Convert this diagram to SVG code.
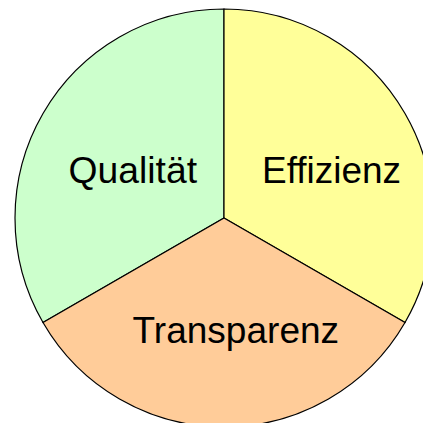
<svg xmlns="http://www.w3.org/2000/svg" width="423" height="423" viewBox="0 0 423 423">
<style>
.seg{stroke:#000;stroke-width:1.2}
.lbl{font-family:"Liberation Sans",Arial,sans-serif;font-size:36px;fill:#000}
</style>
<rect width="423" height="423" fill="#fff"/>
<g id="qualitaet">
<path class="seg" fill="#CCFFCC" d="M224,218 L224,9 A209,209 0 0 0 43,322.5 Z"/>
<text class="lbl" x="68.5" y="183" textLength="128.5" lengthAdjust="spacingAndGlyphs">Qualität</text>
</g>
<g id="effizienz">
<path class="seg" fill="#FFFF99" d="M224,218 L224,9 A209,209 0 0 1 405,322.5 Z"/>
<text class="lbl" x="262" y="183" textLength="139" lengthAdjust="spacingAndGlyphs">Effizienz</text>
</g>
<g id="transparenz">
<path class="seg" fill="#FFCC99" d="M224,218 L405,322.5 A209,209 0 0 1 43,322.5 Z"/>
<text class="lbl" x="132.6" y="342.5" textLength="206.5" lengthAdjust="spacingAndGlyphs">Transparenz</text>
</g>
<g id="connectors"/>
</svg>
